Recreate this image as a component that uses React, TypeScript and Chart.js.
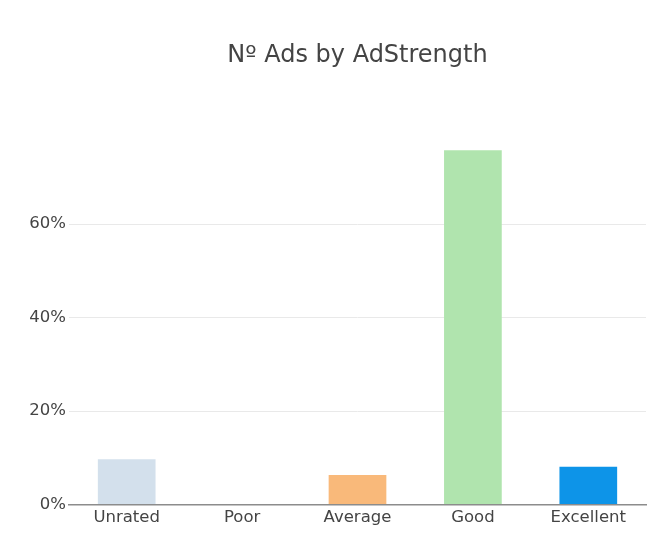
import React, { useEffect, useRef } from 'react';
import Chart from 'chart.js/auto';

const categories = ['Unrated', 'Poor', 'Average', 'Good', 'Excellent'];
const shares = [9.7, 0, 6.3, 75.8, 8.1];
const barColors = ['#d3e0ec', '#d3e0ec', '#f9b97a', '#b0e4ae', '#0d94e8'];
const yTicks = [0, 20, 40, 60];

const App: React.FC = () => {
  const chartRef = useRef<HTMLCanvasElement>(null);

  useEffect(() => {
    document.body.style.margin = '0';
    if (!chartRef.current) return;
    const chart = new Chart(chartRef.current, {
      type: 'bar',
      data: {
        labels: categories,
        datasets: [
          {
            data: shares,
            backgroundColor: barColors,
            barPercentage: 0.5,
            categoryPercentage: 1,
          },
        ],
      },
      options: {
        animation: false,
        responsive: true,
        maintainAspectRatio: false,
        layout: { padding: { left: 0, right: 11, top: 0, bottom: 0 } },
        plugins: {
          legend: { display: false },
          tooltip: { enabled: false },
          title: {
            display: true,
            text: 'Nº Ads by AdStrength',
            color: '#444',
            fullSize: false,
            font: { family: 'DejaVu Sans', size: 24, weight: 'normal' },
            padding: { top: 41, bottom: 62.7 },
          },
        },
        scales: {
          x: {
            grid: { display: false, drawTicks: false },
            border: { display: true, color: '#8c8c8c', width: 1.5 },
            ticks: {
              color: '#444',
              padding: 3,
              font: { family: 'DejaVu Sans', size: 16.5 },
            },
            afterFit: (scale: any) => {
              scale.height = 42.5;
            },
          },
          y: {
            min: 0,
            max: 79.6,
            border: { display: false },
            grid: {
              drawTicks: false,
              color: (ctx: any) => (ctx.tick && ctx.tick.value === 0 ? 'rgba(0,0,0,0)' : '#e9e9e9'),
              lineWidth: 1,
            },
            afterBuildTicks: (scale: any) => {
              scale.ticks = yTicks.map((v) => ({ value: v }));
            },
            ticks: {
              color: '#444',
              padding: 3,
              font: { family: 'DejaVu Sans', size: 16.5 },
              callback: (v: any) => `${v}%`,
            },
            afterFit: (scale: any) => {
              scale.width = 69;
            },
          },
        },
      },
    });
    return () => {
      chart.destroy();
    };
  }, []);

  return (
    <div style={{ width: 657, height: 547, position: 'relative' }}>
      <canvas ref={chartRef} />
    </div>
  );
};

export default App;
